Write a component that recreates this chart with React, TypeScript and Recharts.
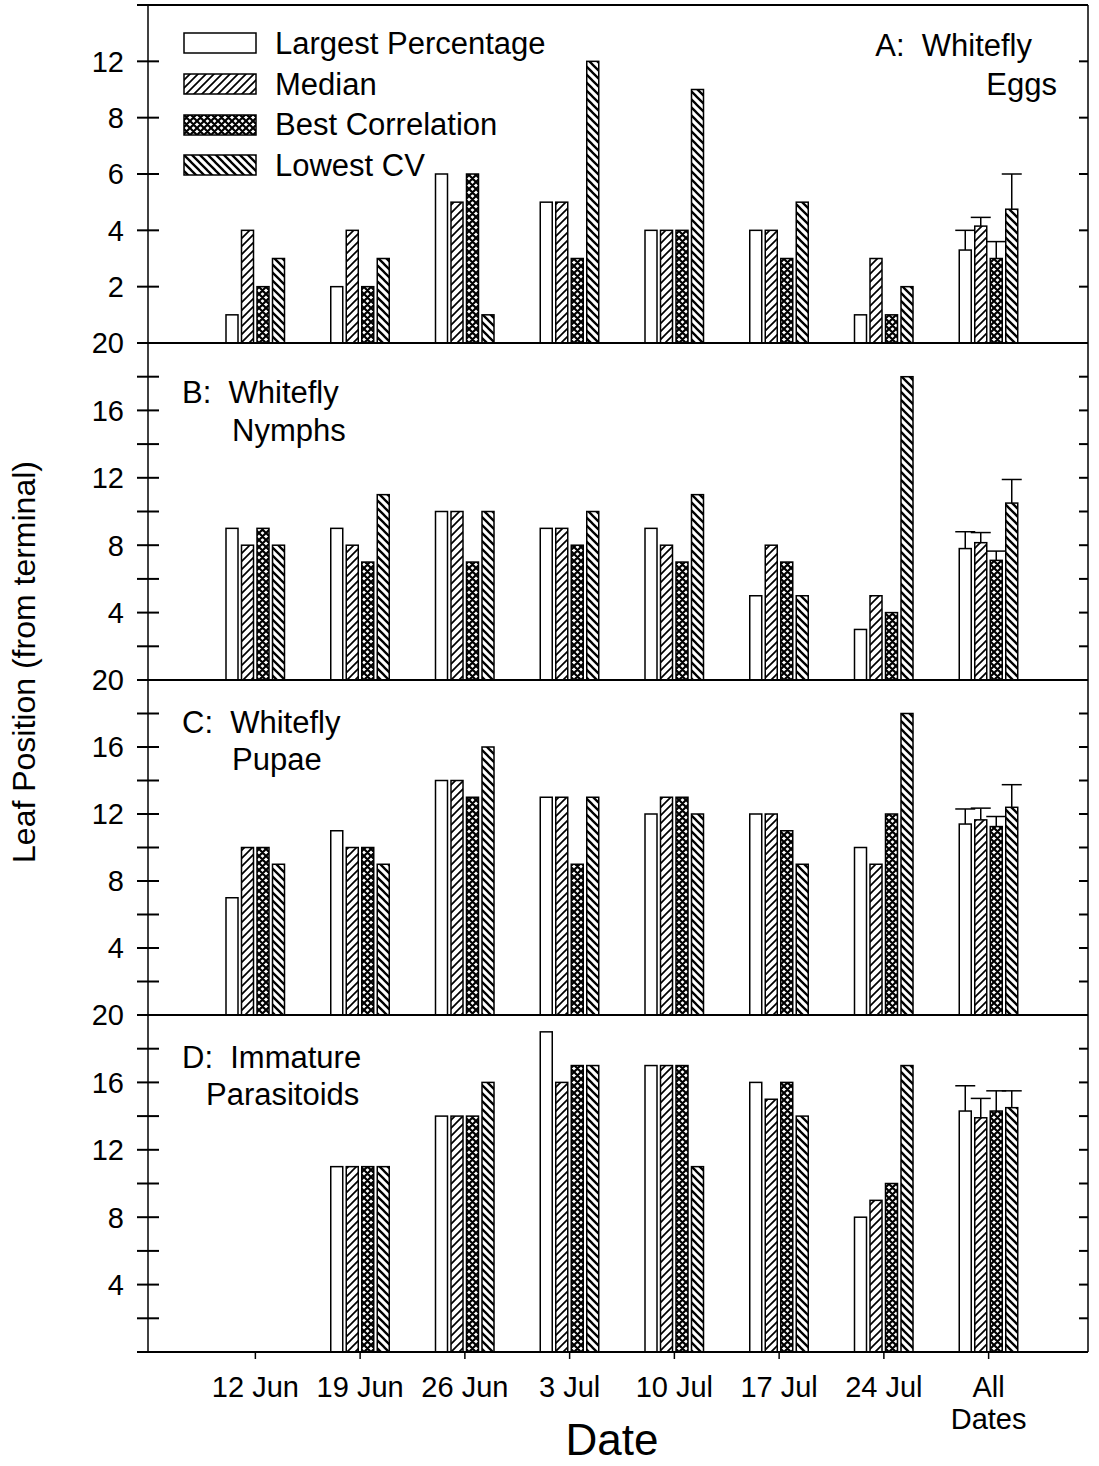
import React from 'react';
import { BarChart, Bar, XAxis, YAxis, ReferenceLine, Legend } from 'recharts';

const FONT = '"Liberation Sans", Arial, Helvetica, sans-serif';

// ---------- data ----------
const dates = ['12 Jun', '19 Jun', '26 Jun', '3 Jul', '10 Jul', '17 Jul', '24 Jul', 'All Dates'];
const seriesNames = ['Largest Percentage', 'Median', 'Best Correlation', 'Lowest CV'];

// A: Whitefly Eggs
const eggsLargest = [1, 2, 6, 5, 4, 4, 1, 3.3];
const eggsMedian = [4, 4, 5, 5, 4, 4, 3, 4.15];
const eggsBest = [2, 2, 6, 3, 4, 3, 1, 3.0];
const eggsLowestCV = [3, 3, 1, 10, 9, 5, 2, 4.75];
const eggsSE = [0.7, 0.31, 0.6, 1.25];

// B: Whitefly Nymphs
const nymphsLargest = [9, 9, 10, 9, 9, 5, 3, 7.8];
const nymphsMedian = [8, 8, 10, 9, 8, 8, 5, 8.15];
const nymphsBest = [9, 7, 7, 8, 7, 7, 4, 7.1];
const nymphsLowestCV = [8, 11, 10, 10, 11, 5, 18, 10.5];
const nymphsSE = [1.0, 0.6, 0.55, 1.4];

// C: Whitefly Pupae
const pupaeLargest = [7, 11, 14, 13, 12, 12, 10, 11.4];
const pupaeMedian = [10, 10, 14, 13, 13, 12, 9, 11.65];
const pupaeBest = [10, 10, 13, 9, 13, 11, 12, 11.25];
const pupaeLowestCV = [9, 9, 16, 13, 12, 9, 18, 12.4];
const pupaeSE = [0.9, 0.7, 0.6, 1.35];

// D: Immature Parasitoids
const parasLargest = [null, 11, 14, 19, 17, 16, 8, 14.3];
const parasMedian = [null, 11, 14, 16, 17, 15, 9, 13.9];
const parasBest = [null, 11, 14, 17, 17, 16, 10, 14.3];
const parasLowestCV = [null, 11, 16, 17, 11, 14, 17, 14.5];
const parasSE = [1.5, 1.15, 1.2, 1.0];

// axis ticks
const eggsTicks = [0, 2, 4, 6, 8, 10, 12];
const eggsTickLabels = ['', '2', '4', '6', '8', '12', ''];
const eggsRightTicks = [2, 4, 6, 8, 10];
const stageTicks = [0, 2, 4, 6, 8, 10, 12, 14, 16, 18, 20];
const stageTickLabels = ['', '', '4', '', '8', '', '12', '', '16', '', '20'];
const stageRightTicks = [2, 4, 6, 8, 10, 12, 14, 16, 18];

// ---------- helpers ----------
const keys = ['largest', 'median', 'best', 'cv'];
const seKeys = ['seLargest', 'seMedian', 'seBest', 'seCv'];
const fills = ['#ffffff', 'url(#hatchFwd)', 'url(#hatchCross)', 'url(#hatchBack)'];

type Num = number | null;
const makeRows = (l: Num[], m: Num[], b: Num[], cv: Num[], se: number[]) =>
  dates.map((date, i) => {
    const last = i === dates.length - 1;
    return {
      date,
      largest: l[i], median: m[i], best: b[i], cv: cv[i],
      seLargest: last ? se[0] : null,
      seMedian: last ? se[1] : null,
      seBest: last ? se[2] : null,
      seCv: last ? se[3] : null,
    };
  });

const eggsRows = makeRows(eggsLargest, eggsMedian, eggsBest, eggsLowestCV, eggsSE);
const nymphsRows = makeRows(nymphsLargest, nymphsMedian, nymphsBest, nymphsLowestCV, nymphsSE);
const pupaeRows = makeRows(pupaeLargest, pupaeMedian, pupaeBest, pupaeLowestCV, pupaeSE);
const parasRows = makeRows(parasLargest, parasMedian, parasBest, parasLowestCV, parasSE);

const barShape = (valKey: string, seKey: string) => (props: any) => {
  const { x, y, width, height, fill, payload } = props;
  if (!payload || payload[valKey] == null || !(height > 0)) return <g />;
  const v = payload[valKey];
  const se = payload[seKey];
  const cx = x + width / 2;
  let err = null;
  if (se != null && v > 0) {
    const yTop = y - (se * height) / v;
    err = (
      <g>
        <line x1={cx} x2={cx} y1={y} y2={yTop} stroke="#000" strokeWidth={1.5} />
        <line x1={cx - 10} x2={cx + 10} y1={yTop} y2={yTop} stroke="#000" strokeWidth={1.5} />
      </g>
    );
  }
  return (
    <g>
      <rect x={x} y={y} width={width} height={height} fill={fill} stroke="#000" strokeWidth={1.5} />
      {err}
    </g>
  );
};

const leftTick = (ticks: number[], labels: string[]) => (p: any) => {
  const { x, y, payload } = p;
  const idx = ticks.indexOf(payload.value);
  const lab = idx >= 0 ? labels[idx] : '';
  return (
    <g>
      <line x1={x - 11} x2={x + 11} y1={y} y2={y} stroke="#000" strokeWidth={2} />
      {lab ? (
        <text x={x - 24} y={y} dy="0.36em" textAnchor="end" fontSize={29} fontFamily={FONT} fill="#000">
          {lab}
        </text>
      ) : null}
    </g>
  );
};

const rightTick = (p: any) => {
  const { x, y } = p;
  return <line x1={x - 9} x2={x} y1={y} y2={y} stroke="#000" strokeWidth={2} />;
};

const dateTick = (p: any) => {
  const { x, y, payload } = p;
  const lines = payload.value === 'All Dates' ? ['All', 'Dates'] : [payload.value];
  return (
    <g>
      <line x1={x} x2={x} y1={y} y2={y + 7} stroke="#000" strokeWidth={1.5} />
      <text x={x} y={y + 45} textAnchor="middle" fontSize={29} fontFamily={FONT} fill="#000">
        {lines.map((l, i) => (
          <tspan key={i} x={x} dy={i === 0 ? 0 : 32}>
            {l}
          </tspan>
        ))}
      </text>
    </g>
  );
};

const LegendBox = () => (
  <div style={{ fontFamily: FONT }}>
    {seriesNames.map((name, i) => (
      <div key={name} style={{ display: 'flex', alignItems: 'center', height: 40.7 }}>
        <svg width={74} height={22} style={{ display: 'block' }}>
          <rect x={1} y={1} width={72} height={20} fill={fills[i]} stroke="#000" strokeWidth={1.5} />
        </svg>
        <span style={{ marginLeft: 18, fontSize: 31, color: '#000', lineHeight: 1, whiteSpace: 'nowrap' }}>{name}</span>
      </div>
    ))}
  </div>
);

type PanelProps = {
  top: number;
  plotTop: number;
  plotBottom: number;
  rows: any[];
  domain: [number, number];
  ticks: number[];
  tickLabels: string[];
  rightTicks: number[];
  showDates?: boolean;
  topLine?: boolean;
  legend?: boolean;
};

const W = 1099;
const PLOT_LEFT = 148;
const PLOT_RIGHT = 1088;
const X_PAD = { left: 55, right: 47 };

function Panel(props: PanelProps) {
  const { top, plotTop, plotBottom, rows, domain, ticks, tickLabels, rightTicks, showDates, topLine, legend } = props;
  const xAxisH = showDates ? 1466 - plotBottom : 1;
  const bottomM = showDates ? 0 : 19;
  const height = plotBottom - top + xAxisH + bottomM;
  return (
    <div style={{ position: 'absolute', left: 0, top }}>
      <BarChart
        width={W}
        height={height}
        data={rows}
        margin={{ top: plotTop - top, right: W - PLOT_RIGHT - 1, left: PLOT_LEFT - 1, bottom: bottomM }}
        barSize={12}
        barGap={3.5}
      >
        <XAxis
          dataKey="date"
          padding={X_PAD}
          height={xAxisH}
          axisLine={{ stroke: '#000', strokeWidth: 2 }}
          tickLine={false}
          tickSize={0}
          tickMargin={0}
          interval={0}
          tick={showDates ? dateTick : false}
        />
        <YAxis
          type="number"
          domain={domain}
          ticks={ticks}
          interval={0}
          allowDataOverflow
          width={1}
          tickSize={0}
          tickMargin={0}
          tickLine={false}
          axisLine={{ stroke: '#000', strokeWidth: 1.5 }}
          tick={leftTick(ticks, tickLabels)}
        />
        <YAxis
          yAxisId="r"
          orientation="right"
          type="number"
          domain={domain}
          ticks={rightTicks}
          interval={0}
          allowDataOverflow
          width={1}
          tickSize={0}
          tickMargin={0}
          tickLine={false}
          axisLine={{ stroke: '#000', strokeWidth: 1.5 }}
          tick={rightTick}
        />
        {topLine ? <ReferenceLine y={domain[1]} stroke="#000" strokeWidth={2} /> : null}
        {legend ? (
          <Legend
            layout="vertical"
            align="center"
            verticalAlign="middle"
            wrapperStyle={{ left: 183, top: 23, width: 420, height: 165 }}
            content={() => <LegendBox />}
          />
        ) : null}
        {keys.map((k, i) => (
          <Bar
            key={k}
            dataKey={k}
            name={seriesNames[i]}
            fill={fills[i]}
            stroke="#000"
            isAnimationActive={false}
            shape={barShape(k, seKeys[i])}
          />
        ))}
      </BarChart>
    </div>
  );
}

export default function App() {
  const t = { fontFamily: FONT, fontSize: 31, fill: '#000', whiteSpace: 'pre' } as any;
  return (
    <div style={{ position: 'absolute', left: 0, top: 0, width: W, height: 1466, background: '#fff', overflow: 'hidden' }}>
      <svg width={0} height={0} style={{ position: 'absolute', left: 0, top: 0 }}>
        <defs>
          <pattern id="hatchFwd" patternUnits="userSpaceOnUse" width={8} height={8}>
            <rect width={8} height={8} fill="#fff" />
            <path d="M-2,2 L2,-2 M0,8 L8,0 M6,10 L10,6" stroke="#000" strokeWidth={1.7} />
          </pattern>
          <pattern id="hatchBack" patternUnits="userSpaceOnUse" width={8} height={8}>
            <rect width={8} height={8} fill="#fff" />
            <path d="M-2,6 L2,10 M0,0 L8,8 M6,-2 L10,2" stroke="#000" strokeWidth={2.3} />
          </pattern>
          <pattern id="hatchCross" patternUnits="userSpaceOnUse" width={7} height={7}>
            <rect width={7} height={7} fill="#fff" />
            <path d="M-2,2 L2,-2 M0,7 L7,0 M5,9 L9,5 M-2,5 L2,9 M0,0 L7,7 M5,-2 L9,2" stroke="#000" strokeWidth={2.2} />
          </pattern>
        </defs>
      </svg>

      <Panel top={0} plotTop={5} plotBottom={343} rows={eggsRows} domain={[0, 12]} ticks={eggsTicks}
        tickLabels={eggsTickLabels} rightTicks={eggsRightTicks} topLine legend />
      <Panel top={323} plotTop={343} plotBottom={680} rows={nymphsRows} domain={[0, 20]} ticks={stageTicks}
        tickLabels={stageTickLabels} rightTicks={stageRightTicks} />
      <Panel top={660} plotTop={680} plotBottom={1015} rows={pupaeRows} domain={[0, 20]} ticks={stageTicks}
        tickLabels={stageTickLabels} rightTicks={stageRightTicks} />
      <Panel top={995} plotTop={1015} plotBottom={1352} rows={parasRows} domain={[0, 20]} ticks={stageTicks}
        tickLabels={stageTickLabels} rightTicks={stageRightTicks} showDates />

      <svg width={W} height={1466} style={{ position: 'absolute', left: 0, top: 0, pointerEvents: 'none' }}>
        <text style={t} x={1032} y={56} textAnchor="end">A:  Whitefly</text>
        <text style={t} x={1057} y={95} textAnchor="end">Eggs</text>
        <text style={t} x={182} y={403}>B:  Whitefly</text>
        <text style={t} x={232} y={441}>Nymphs</text>
        <text style={t} x={182} y={733}>C:  Whitefly</text>
        <text style={t} x={232} y={770}>Pupae</text>
        <text style={t} x={182} y={1068}>D:  Immature</text>
        <text style={t} x={206} y={1105}>Parasitoids</text>
        <text
          transform="translate(35,662) rotate(-90)"
          textAnchor="middle"
          style={{ fontFamily: FONT, fontSize: 32, fill: '#000' } as any}
        >
          Leaf Position (from terminal)
        </text>
        <text x={612} y={1455} textAnchor="middle" style={{ fontFamily: FONT, fontSize: 44, fill: '#000' } as any}>
          Date
        </text>
      </svg>
    </div>
  );
}
